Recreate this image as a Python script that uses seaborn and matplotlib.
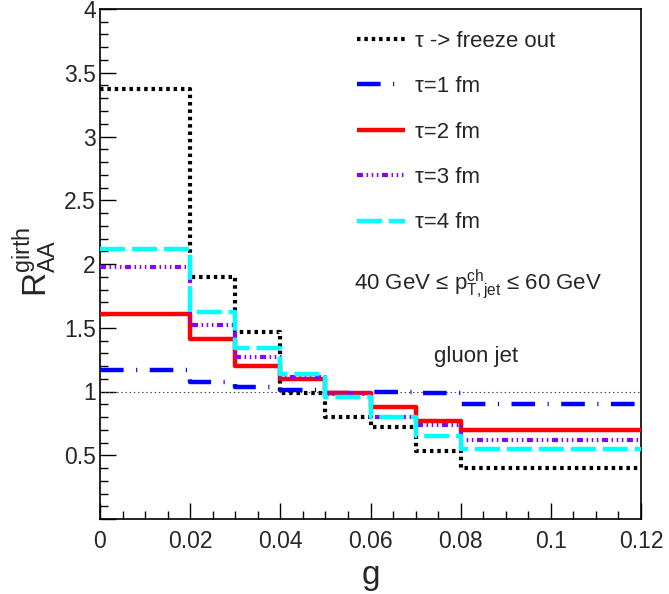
import numpy as np
import pandas as pd
import matplotlib
matplotlib.use("Agg")
import matplotlib.pyplot as plt
import seaborn as sns

# ---------------- data ----------------
bin_edges = [0.0, 0.02, 0.03, 0.04, 0.05, 0.06, 0.07, 0.08, 0.12]
freeze_out = [3.37, 1.90, 1.47, 0.99, 0.80, 0.72, 0.53, 0.40]
tau1 = [1.17, 1.075, 1.035, 1.01, 0.99, 1.00, 0.99, 0.90]
tau2 = [1.61, 1.41, 1.20, 1.10, 0.99, 0.88, 0.77, 0.70]
tau3 = [1.98, 1.52, 1.27, 1.11, 0.98, 0.80, 0.735, 0.62]
tau4 = [2.12, 1.62, 1.34, 1.14, 0.96, 0.80, 0.65, 0.55]
series_names = ["τ -> freeze out", "τ=1 fm", "τ=2 fm", "τ=3 fm", "τ=4 fm"]
series_values = [freeze_out, tau1, tau2, tau3, tau4]
x_ticks = [0, 0.02, 0.04, 0.06, 0.08, 0.1, 0.12]
x_tick_labels = ["0", "0.02", "0.04", "0.06", "0.08", "0.1", "0.12"]
y_ticks = [0, 0.5, 1, 1.5, 2, 2.5, 3, 3.5, 4]
y_tick_labels = ["", "0.5", "1", "1.5", "2", "2.5", "3", "3.5", "4"]

# ---------------- styling ----------------
sns.set_theme(style="ticks")
plt.rcParams["font.family"] = ["Liberation Sans", "DejaVu Sans"]
plt.rcParams["mathtext.fontset"] = "custom"
plt.rcParams["mathtext.rm"] = "Liberation Sans"
plt.rcParams["mathtext.it"] = "Liberation Sans"
plt.rcParams["mathtext.bf"] = "Liberation Sans:bold"
plt.rcParams["lines.scale_dashes"] = False

colors = ["black", "#0000ff", "#ff0000", "#8a00ff", "#00ffff"]
lws = [3.0, 3.2, 3.2, 3.0, 3.2]
dash_styles = [
    (0, (2.5, 2.8)),
    (0, (17, 9, 0.8, 9)),
    "-",
    (0, (4.3, 2.6, 1.1, 2.6, 1.1, 2.6, 1.1, 2.6)),
    (0, (18, 5)),
]

rows = []
for name, vals in zip(series_names, series_values):
    ext = list(vals) + [vals[-1]]
    for x, v in zip(bin_edges, ext):
        rows.append({"g": x, "R": v, "series": name})
df = pd.DataFrame(rows)

fig = plt.figure(figsize=(6.69, 5.94), dpi=100)
ax = fig.add_axes([100 / 669, 1 - 519 / 594, 541 / 669, 510 / 594])

# reference line at 1
ax.plot([0, 0.12], [1, 1], color="#444444", lw=0.8, linestyle=(0, (1, 2)), zorder=1)

for i, name in enumerate(series_names):
    sub = df[df["series"] == name]
    sns.lineplot(data=sub, x="g", y="R", ax=ax, color=colors[i], lw=lws[i],
                 linestyle=dash_styles[i], drawstyle="steps-post",
                 label=name, solid_capstyle="butt", dash_capstyle="butt",
                 estimator=None, sort=False, zorder=3 + i)

ax.set_xlim(0, 0.12)
ax.set_ylim(0, 4)
ax.set_xticks(x_ticks)
ax.set_xticklabels(x_tick_labels)
ax.set_yticks(y_ticks)
ax.set_yticklabels(y_tick_labels)
ax.set_xticks(np.arange(0, 0.1201, 0.005), minor=True)
ax.set_yticks(np.arange(0, 4.001, 0.1), minor=True)
ax.tick_params(axis="both", which="major", direction="in", length=11.5, width=1,
               labelsize=16.5, color="black")
ax.tick_params(axis="both", which="minor", direction="in", length=5.5, width=1,
               color="black")
ax.tick_params(axis="y", which="both", pad=3)
ax.tick_params(axis="x", which="both", pad=8)
for s in ax.spines.values():
    s.set_linewidth(1.2)
    s.set_color("black")

ax.set_xlabel("g", fontsize=24)
ax.xaxis.set_label_coords(0.5, -0.128)
ax.xaxis.label.set_verticalalignment("baseline")
ax.set_ylabel(r"$\mathregular{R_{AA}^{girth}}$", fontsize=24)
ax.yaxis.set_label_coords(-0.075, 0.504)
ax.yaxis.label.set_verticalalignment("bottom")

leg = ax.legend(loc="upper left", bbox_to_anchor=(0.459, 0.975), frameon=False,
                fontsize=16, handlelength=2.15, handletextpad=0.45,
                labelspacing=1.1, borderaxespad=0)

ax.text(0.0563, 1.80, r"40 GeV ≤ $\mathregular{p_{T,jet}^{ch}}$ ≤ 60 GeV",
        fontsize=16, ha="left", va="baseline")
ax.text(0.0741, 1.23, "gluon jet", fontsize=16, ha="left", va="baseline")

fig.savefig("out.png", dpi=100)
